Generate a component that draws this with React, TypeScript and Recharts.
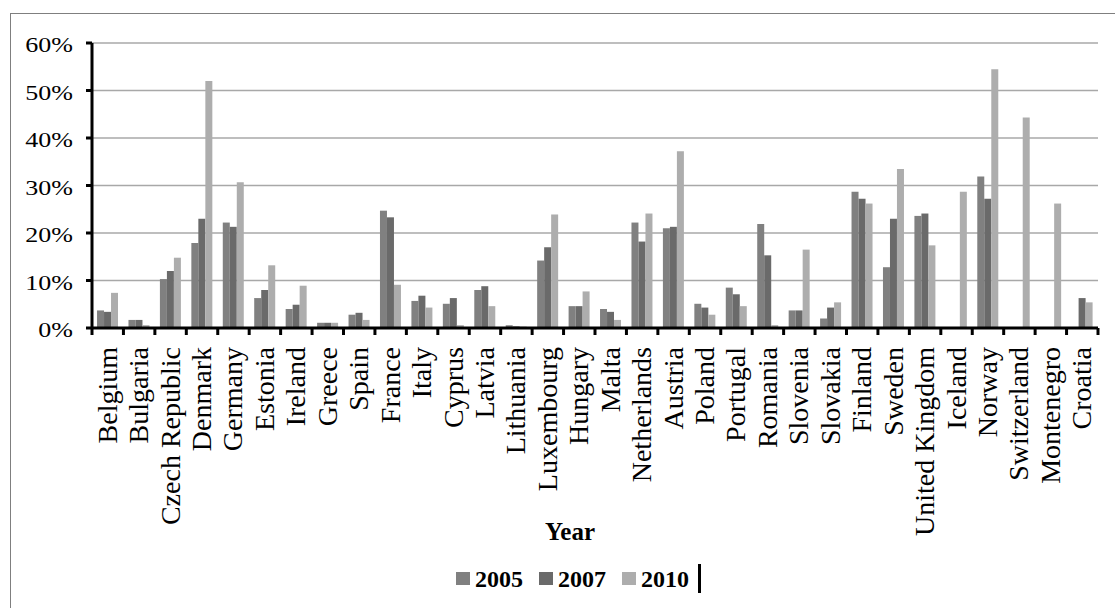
import React from 'react';
import { BarChart, Bar, XAxis, YAxis, CartesianGrid, Legend, Label } from 'recharts';

const categories = [
  'Belgium', 'Bulgaria', 'Czech Republic', 'Denmark', 'Germany', 'Estonia', 'Ireland', 'Greece',
  'Spain', 'France', 'Italy', 'Cyprus', 'Latvia', 'Lithuania', 'Luxembourg', 'Hungary', 'Malta',
  'Netherlands', 'Austria', 'Poland', 'Portugal', 'Romania', 'Slovenia', 'Slovakia', 'Finland',
  'Sweden', 'United Kingdom', 'Iceland', 'Norway', 'Switzerland', 'Montenegro', 'Croatia',
];

const series2005 = [
  3.7, 1.7, 10.3, 17.9, 22.2, 6.3, 4.0, 1.1, 2.8, 24.7, 5.7, 5.1, 8.0, 0.6, 14.2, 4.6, 4.0,
  22.2, 21.0, 5.1, 8.5, 21.9, 3.7, 2.0, 28.7, 12.8, 23.6, null, 31.9, null, null, null,
];
const series2007 = [
  3.4, 1.7, 12.0, 23.0, 21.3, 8.0, 4.9, 1.1, 3.2, 23.3, 6.8, 6.3, 8.8, 0.35, 17.0, 4.6, 3.4,
  18.2, 21.3, 4.3, 7.1, 15.3, 3.7, 4.3, 27.2, 23.0, 24.1, null, 27.2, null, null, 6.3,
];
const series2010 = [
  7.4, 0.6, 14.8, 52.0, 30.7, 13.2, 8.9, 1.1, 1.7, 9.1, 4.3, 0.6, 4.6, 0.3, 23.9, 7.7, 1.7,
  24.1, 37.2, 2.8, 4.6, 0.6, 16.5, 5.4, 26.2, 33.5, 17.4, 28.7, 54.5, 44.3, 26.2, 5.4,
];

const yTicks = [0, 10, 20, 30, 40, 50, 60];
const seriesKeys = ['y2005', 'y2007', 'y2010'];
const seriesNames = ['2005', '2007', '2010'];
const seriesColors = ['#808080', '#6a6a6a', '#adadad'];
const xAxisTitle = 'Year';

const data = categories.map((c, i) => ({
  country: c,
  y2005: series2005[i],
  y2007: series2007[i],
  y2010: series2010[i],
}));

const FONT = '"Liberation Serif", "Times New Roman", serif';

function XTick(props: any) {
  const { x, y, payload, index } = props;
  const half = payload && payload.offset ? payload.offset : 15.72;
  const isLast = index === categories.length - 1;
  return (
    <g>
      <line x1={x - half} x2={x - half} y1={y} y2={y + 7} stroke="#000" strokeWidth={3} />
      {isLast && <line x1={x + half} x2={x + half} y1={y} y2={y + 7} stroke="#000" strokeWidth={3} />}
      <text
        transform={`translate(${x},${y + 19}) rotate(-90)`}
        textAnchor="end"
        dy={9}
        fontSize={28}
        fontFamily={FONT}
        fill="#000"
      >
        {payload.value}
      </text>
    </g>
  );
}

function YTick(props: any) {
  const { x, y, payload } = props;
  return (
    <g transform={`translate(${x},${y}) scale(1,0.84)`}>
      <text x={0} y={0} dy="0.42em" textAnchor="end" fontSize={26} fontFamily={FONT} fill="#000">
        {`${payload.value}%`}
      </text>
    </g>
  );
}

function renderLegend(props: any) {
  const payload = props.payload || [];
  return (
    <div style={{ display: 'flex', alignItems: 'center', height: 29, fontFamily: FONT }}>
      {payload.map((p: any, i: number) => (
        <div key={i} style={{ display: 'flex', alignItems: 'center', marginRight: i < payload.length - 1 ? 16 : 9 }}>
          <div style={{ width: 14, height: 13, background: p.color, marginRight: 5 }} />
          <span style={{ fontSize: 24, fontWeight: 'bold', color: '#000', lineHeight: '24px', fontFamily: FONT }}>{p.value}</span>
        </div>
      ))}
      <div style={{ width: 3, height: 29, background: '#000' }} />
    </div>
  );
}

export default function App() {
  return (
    <div style={{ position: 'absolute', left: 0, top: 0, width: 1115, height: 608, overflow: 'hidden', background: '#fff' }}>
      <div
        style={{
          position: 'absolute',
          left: 10,
          top: 13,
          width: 1110,
          height: 620,
          border: '1px solid #7f7f7f',
          boxSizing: 'border-box',
        }}
      />
      <div style={{ position: 'absolute', left: 0, top: 0 }}>
        <BarChart
          width={1115}
          height={608}
          data={data}
          margin={{ top: 43, right: 17, left: 12, bottom: 68 }}
          barGap={0}
          barCategoryGap="16%"
        >
          <CartesianGrid vertical={false} stroke="#a8a8a8" strokeWidth={1.5} />
          <XAxis
            dataKey="country"
            interval={0}
            height={212}
            tickSize={0}
            tickMargin={0}
            tickLine={false}
            axisLine={{ stroke: '#000', strokeWidth: 3 }}
            tick={<XTick />}
          >
            <Label
              content={(p: any) => {
                const vb = p.viewBox || { x: 92, y: 328, width: 1006, height: 212 };
                return (
                  <text
                    x={vb.x + vb.width / 2 - 25}
                    y={vb.y + vb.height}
                    textAnchor="middle"
                    fontSize={25}
                    fontWeight="bold"
                    fontFamily={FONT}
                    fill="#000"
                  >
                    {xAxisTitle}
                  </text>
                );
              }}
            />
          </XAxis>
          <YAxis
            width={80}
            domain={[0, 60]}
            ticks={yTicks}
            interval={0}
            tickSize={6}
            tickMargin={13}
            tickLine={{ stroke: '#000', strokeWidth: 3 }}
            axisLine={{ stroke: '#000', strokeWidth: 3 }}
            tick={<YTick />}
          />
          <Legend
            layout="horizontal"
            verticalAlign="middle"
            align="center"
            wrapperStyle={{ top: 564, left: 456, width: 300, height: 29 }}
            content={renderLegend}
          />
          {seriesKeys.map((k, i) => (
            <Bar key={k} dataKey={k} name={seriesNames[i]} fill={seriesColors[i]} isAnimationActive={false} />
          ))}
        </BarChart>
      </div>
    </div>
  );
}
